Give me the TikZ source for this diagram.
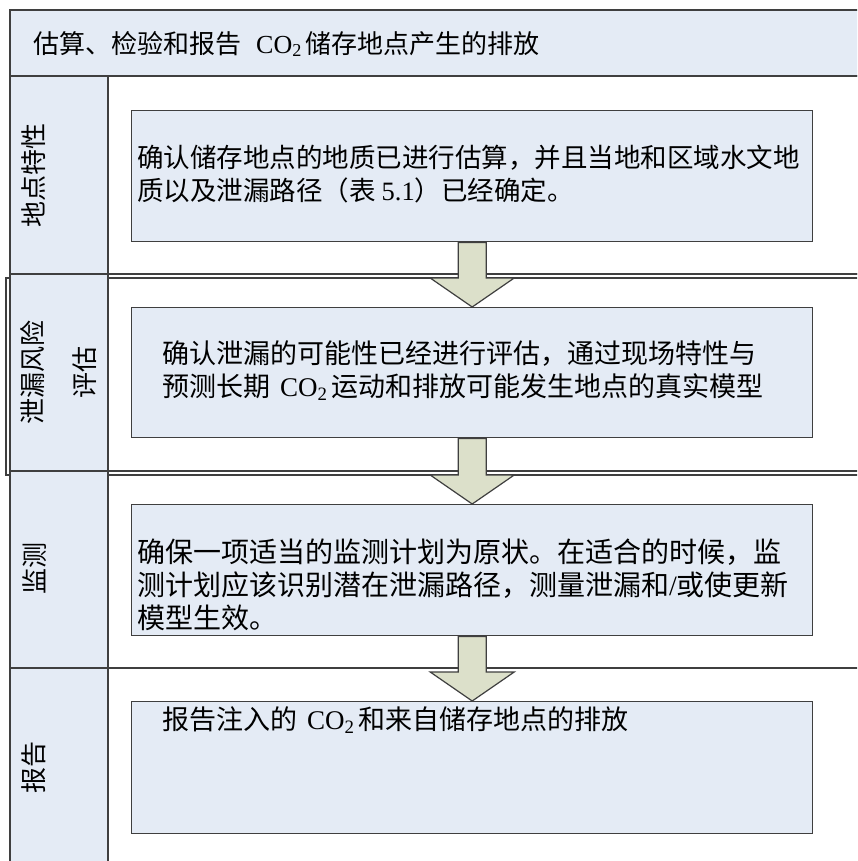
\documentclass[tikz,border=0pt]{standalone}
\usepackage{fontspec}
\setmainfont{Liberation Serif}
\newfontfamily\cjk{Noto Sans CJK SC}
\usetikzlibrary{calc}
\definecolor{hdr}{HTML}{E4EBF5}
\definecolor{arrfill}{HTML}{DCE0CA}
\definecolor{edge}{HTML}{3F3F3F}
\newcommand{\COtwo}{{\rmfamily CO\textsubscript{2}}}
\newcommand{\lat}[1]{{\rmfamily #1}}
\tikzset{
  frame/.style={draw=edge, line width=1.2pt},
  hdrcell/.style={draw=edge, line width=1.2pt, fill=hdr},
  stepbox/.style={draw=edge, line width=1.4pt, fill=hdr, anchor=north west, inner sep=0pt},
  boxtext/.style={font=\cjk\fontsize{27}{33}\selectfont, align=left, anchor=west, inner sep=0pt},
  lanelabel/.style={font=\cjk\fontsize{26}{52}\selectfont, rotate=90, inner sep=0pt, align=center},
  blockarrow/.style={draw=edge, line width=1.2pt, fill=arrfill, line join=miter},
}
\newcommand{\flowarrow}[2]{%
  \draw[blockarrow] ($(#1.south)+(-14,0)$) -- ($(#2.north)+(-14,-29)$) -- ($(#2.north)+(-42,-29)$) -- (#2.north)
    -- ($(#2.north)+(42,-29)$) -- ($(#2.north)+(14,-29)$) -- ($(#1.south)+(14,0)$) -- cycle;}
\begin{document}
\begin{tikzpicture}[x=1pt,y=-1pt]
\useasboundingbox (0,0) rectangle (857,861);
\clip (0,0) rectangle (857,861);
\fill[white] (0,0) rectangle (857,861);
% title
\draw[hdrcell] (10,10) rectangle (900,76);
\node[anchor=west, inner sep=0pt, font=\cjk\fontsize{26}{26}\selectfont] (title) at (33,44) {估算、检验和报告\hspace{15pt}\COtwo\hspace{4pt}储存地点产生的排放};
% lanes
\draw[frame] (6,278) rectangle (900,475);
\draw[frame] (10,76) rectangle (900,274);
\draw[frame] (10,274) -- (900,274);
\draw[frame] (10,471) -- (900,471);
\draw[frame] (10,668) rectangle (900,900);
\draw[hdrcell] (10,76) rectangle (108,274);
\draw[hdrcell] (10,274) rectangle (108,471);
\draw[hdrcell] (10,471) rectangle (108,668);
\draw[hdrcell] (10,668) rectangle (108,900);
% lane labels
\node[lanelabel] (l1) at (34,175) {地点特性};
\node[lanelabel] (l2) at (59,372) {泄漏风险\\评估};
\node[lanelabel] (l3) at (35,568) {监测};
\node[lanelabel] (l4) at (34,767) {报告};
% step boxes
\node[stepbox, minimum width=681, minimum height=131] (b1) at (131,110) {};
\node[stepbox, minimum width=681, minimum height=130] (b2) at (131,307) {};
\node[stepbox, minimum width=681, minimum height=131] (b3) at (131,504) {};
\node[stepbox, minimum width=681, minimum height=132] (b4) at (131,701) {};
% texts
\node[boxtext, font=\cjk\fontsize{26.5}{33}\selectfont] (t1) at (137,174) {确认储存地点的地质已进行估算，并且当地和区域水文地\\质以及泄漏路径（表 \lat{5.1}）已经确定。};
\node[boxtext] (t2) at (162,371) {确认泄漏的可能性已经进行评估，通过现场特性与\\预测长期\hspace{10pt}\COtwo\hspace{4pt}运动和排放可能发生地点的真实模型};
\node[boxtext, font=\cjk\fontsize{28}{33}\selectfont] (t3) at (137,585) {确保一项适当的监测计划为原状。在适合的时候，监\\测计划应该识别潜在泄漏路径，测量泄漏和\lat{/}或使更新\\模型生效。};
\node[boxtext] (t4) at (162,720) {报告注入的\hspace{10pt}\COtwo\hspace{4pt}和来自储存地点的排放};
% arrows
\flowarrow{b1}{b2}
\flowarrow{b2}{b3}
\flowarrow{b3}{b4}
\end{tikzpicture}
\end{document}
